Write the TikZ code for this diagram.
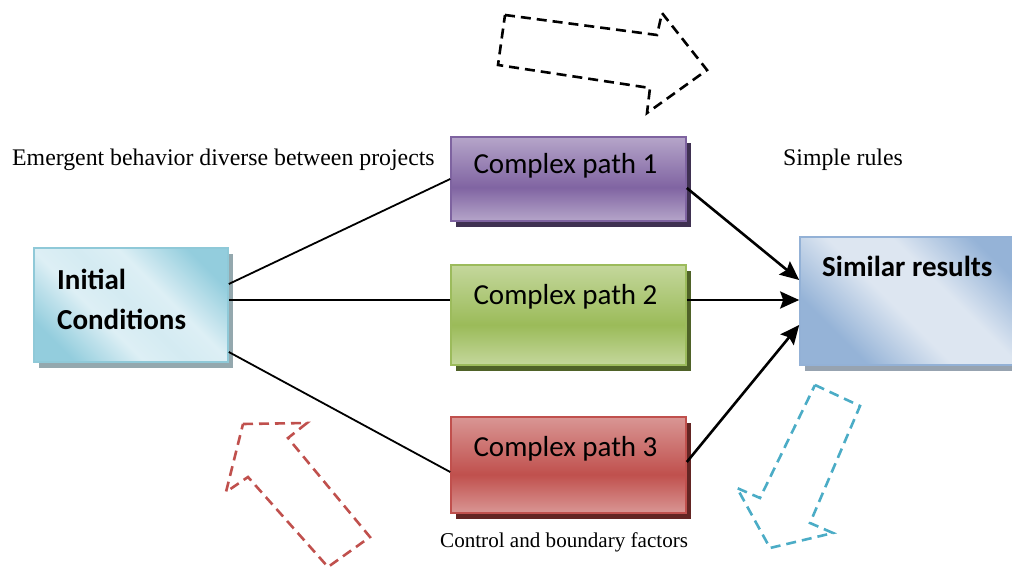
\documentclass[tikz,border=0pt]{standalone}
\usepackage{fontspec}
\setmainfont{Liberation Serif}
\newfontfamily\boxfont{Carlito}
\usetikzlibrary{arrows.meta,shadows}

% colour scheme
\definecolor{icdark}{HTML}{93CDDD}
\definecolor{iclight}{HTML}{DDEFF5}
\definecolor{icedge}{HTML}{8FC9D8}
\definecolor{icshadow}{HTML}{94A8AE}
\definecolor{srdark}{HTML}{95B3D7}
\definecolor{srlight}{HTML}{DDE6F1}
\definecolor{sredge}{HTML}{93B1D6}
\definecolor{srshadow}{HTML}{97A3B0}
\definecolor{pudark}{HTML}{8064A2}
\definecolor{pulight}{HTML}{B5A5C9}
\definecolor{puedge}{HTML}{7E63A0}
\definecolor{pushadow}{HTML}{3F3151}
\definecolor{grdark}{HTML}{9BBB59}
\definecolor{grlight}{HTML}{C4D79C}
\definecolor{gredge}{HTML}{9CBB5C}
\definecolor{grshadow}{HTML}{4F6228}
\definecolor{rddark}{HTML}{C0504D}
\definecolor{rdlight}{HTML}{D99694}
\definecolor{rdedge}{HTML}{C0504D}
\definecolor{rdshadow}{HTML}{632523}
\definecolor{cyanarrow}{HTML}{4BACC6}

% diagonal light band between darker corners
\pgfdeclareverticalshading{icshade}{100bp}{color(0bp)=(icdark); color(24bp)=(icdark);
  color(40bp)=(iclight); color(50bp)=(iclight!88!icdark); color(60bp)=(iclight);
  color(76bp)=(icdark); color(100bp)=(icdark)}
\pgfdeclareverticalshading{srshade}{100bp}{color(0bp)=(srdark); color(28bp)=(srdark);
  color(45bp)=(srlight); color(58bp)=(srlight); color(74bp)=(srdark); color(100bp)=(srdark)}
% light top and bottom, darker band below the middle
\pgfdeclareverticalshading{pushade}{100bp}{color(0bp)=(pulight); color(25bp)=(pulight);
  color(45bp)=(pudark); color(75bp)=(pulight); color(100bp)=(pulight)}
\pgfdeclareverticalshading{grshade}{100bp}{color(0bp)=(grlight); color(25bp)=(grlight);
  color(45bp)=(grdark); color(75bp)=(grlight); color(100bp)=(grlight)}
\pgfdeclareverticalshading{rdshade}{100bp}{color(0bp)=(rdlight); color(25bp)=(rdlight);
  color(45bp)=(rddark); color(75bp)=(rdlight); color(100bp)=(rdlight)}

\tikzset{
  boxbase/.style={rectangle, inner sep=0pt, line width=1.6pt},
  framebox/.style 2 args={boxbase, shade, shading=#1, draw=#2},
  shadowed/.style={drop shadow={shadow xshift=5pt, shadow yshift=-6pt, fill=#1, opacity=1}},
  pathtext/.style={font=\boxfont\fontsize{29}{35}\selectfont, inner sep=0pt, anchor=base},
  boldtext/.style={font=\boxfont\bfseries\fontsize{29}{40}\selectfont, inner sep=0pt, align=left},
  caption/.style={font=\fontsize{23.8}{28}\selectfont, inner sep=0pt, anchor=base west},
  link/.style={line width=1.8pt, black},
  flow/.style={line width=2.6pt, black, -{Stealth[length=19pt,width=17pt,inset=3pt]}},
  hollowarrow/.style={line width=2.6pt, dash pattern=on 10pt off 6pt, line join=miter},
}

\begin{document}
\begin{tikzpicture}[x=1pt, y=-1pt]
\useasboundingbox (0,0) rectangle (1012,569);

% main boxes
\node[framebox={icshade}{icedge}, shading angle=-45, shadowed=icshadow,
      minimum width=194pt, minimum height=114pt] (ic) at (131,305) {};
\node[framebox={pushade}{puedge}, shadowed=pushadow,
      minimum width=235pt, minimum height=84pt] (cp1) at (568.5,179) {};
\node[framebox={grshade}{gredge}, shadowed=grshadow,
      minimum width=235pt, minimum height=100pt] (cp2) at (568.5,315) {};
\node[framebox={rdshade}{rdedge}, shadowed=rdshadow,
      minimum width=235pt, minimum height=96pt] (cp3) at (568.5,465) {};
\node[framebox={srshade}{sredge}, shading angle=-45, shadowed=srshadow,
      minimum width=230pt, minimum height=128pt] (sr) at (915,301) {};

% box texts (base anchor sits on the last line)
\node[boldtext, anchor=base west] (ictext) at (57,330) {Initial\\Conditions};
\node[pathtext] (t1) at ([xshift=-3pt,yshift=-37pt]cp1.north) {Complex path 1};
\node[pathtext] (t2) at ([xshift=-3pt,yshift=-40pt]cp2.north) {Complex path 2};
\node[pathtext] (t3) at ([xshift=-3pt,yshift=-40pt]cp3.north) {Complex path 3};
\node[boldtext, anchor=base west] (srtext) at (822,277) {Similar results};

% free labels
\node[caption] (emergent) at (12,166) {Emergent behavior diverse between projects};
\node[caption] (rules) at (783,166) {Simple rules};
\node[caption, font=\fontsize{21.1}{25}\selectfont] (factors) at (440,547) {Control and boundary factors};

% connectors from the initial conditions
\draw[link] ([yshift=21pt]ic.east) -- (cp1.west);
\draw[link] ([yshift=5pt]ic.east) -- ([yshift=15pt]cp2.west);
\draw[link] ([yshift=-47pt]ic.east) -- ([yshift=-7pt]cp3.west);

% arrows into the results
\draw[flow] ([yshift=-9pt]cp1.east) -- ([yshift=21pt]sr.west);
\draw[flow] ([yshift=15pt]cp2.east) -- ([yshift=1pt]sr.west);
\draw[flow] ([yshift=3pt]cp3.east) -- ([yshift=-24pt]sr.west);

% dashed outline arrows
\draw[hollowarrow, black] (505,15) -- (657,35) -- (662,13) -- (707,70)
  -- (647,113) -- (650,88) -- (498,65) -- cycle;
\draw[hollowarrow, rddark] (243,424) -- (307,423) -- (288,438) -- (370,537)
  -- (328,567) -- (248,477) -- (226,492) -- cycle;
\draw[hollowarrow, cyanarrow] (815,385) -- (860,406) -- (810,523) -- (833,533)
  -- (770,548) -- (737,488) -- (760,498) -- cycle;
\end{tikzpicture}
\end{document}
